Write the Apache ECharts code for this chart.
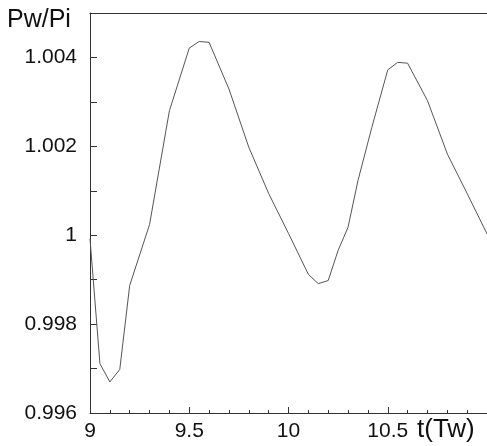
<!DOCTYPE html>
<html>
<head>
<meta charset="utf-8">
<script src="https://cdn.jsdelivr.net/npm/echarts@6/dist/echarts.min.js"></script>
<style>html,body{margin:0;padding:0;background:#fff}#c{width:487px;height:446px}</style>
</head>
<body>
<div id="c"></div>
<script>
// Data
const tValues = [9, 9.05, 9.1, 9.15, 9.2, 9.3, 9.4, 9.5, 9.55, 9.6, 9.7, 9.8, 9.9, 10.0, 10.1, 10.15, 10.2, 10.25, 10.3, 10.35, 10.42, 10.5, 10.55, 10.6, 10.7, 10.8, 10.9, 11.0];
const pwPi = [0.99992, 0.99711, 0.99670, 0.99698, 0.99887, 1.00024, 1.00280, 1.00421, 1.00436, 1.00434, 1.00329, 1.00198, 1.00094, 1.00004, 0.99912, 0.99891, 0.99898, 0.99966, 1.00018, 1.00123, 1.00243, 1.00372, 1.00389, 1.00387, 1.00303, 1.00183, 1.00094, 1.00003];
const xTickLabels = ['9', '9.5', '10', '10.5'];
const yTickLabels = ['0.996', '0.998', '1', '1.002', '1.004'];
const yName = 'Pw/Pi';
const xName = 't(Tw)';

const FONT = '"Liberation Sans", Arial, sans-serif';
const AX = '#333';
const chart = echarts.init(document.getElementById('c'), null, {renderer: 'canvas'});
chart.setOption({
  animation: false,
  backgroundColor: '#fff',
  grid: {left: 90, top: 13, width: 400, height: 400, containLabel: false},
  xAxis: [{
    type: 'value', min: 9, max: 11, interval: 0.5, position: 'bottom',
    axisLine: {show: true, lineStyle: {color: AX, width: 1}},
    axisTick: {show: true, inside: true, length: 6, lineStyle: {color: AX}},
    minorTick: {show: true, splitNumber: 5, length: 3, lineStyle: {color: AX}},
    splitLine: {show: false},
    axisLabel: {
      margin: 8, color: '#111', fontSize: 21, fontFamily: FONT, showMaxLabel: false,
      formatter: v => {
        const s = String(parseFloat(v.toFixed(1)));
        return xTickLabels.indexOf(s) >= 0 ? s : '';
      }
    }
  }, {
    type: 'value', min: 9, max: 11, position: 'top',
    axisLine: {show: true, onZero: false, lineStyle: {color: AX, width: 1}},
    axisTick: {show: false}, axisLabel: {show: false}, splitLine: {show: false}
  }],
  yAxis: {
    type: 'value', min: 0.996, max: 1.005, interval: 0.001,
    axisLine: {show: true, lineStyle: {color: AX, width: 1}},
    axisTick: {show: true, inside: true, length: 7, lineStyle: {color: AX}},
    splitLine: {show: false},
    axisLabel: {
      margin: 13, color: '#111', fontSize: 21, fontFamily: FONT,
      formatter: v => {
        const s = String(parseFloat(v.toFixed(3)));
        return yTickLabels.indexOf(s) >= 0 ? s : '';
      }
    }
  },
  series: [{
    type: 'line',
    data: tValues.map((t, i) => [t, pwPi[i]]),
    showSymbol: false, symbol: 'none',
    lineStyle: {color: '#555', width: 1},
    clip: true
  }],
  graphic: [
    {type: 'text', left: 7, top: 8, style: {text: yName, font: '25px ' + FONT, fill: '#111'}},
    {type: 'text', left: 417, top: 417, style: {text: xName, font: '26px ' + FONT, fill: '#111'}}
  ]
});
</script>
</body>
</html>
